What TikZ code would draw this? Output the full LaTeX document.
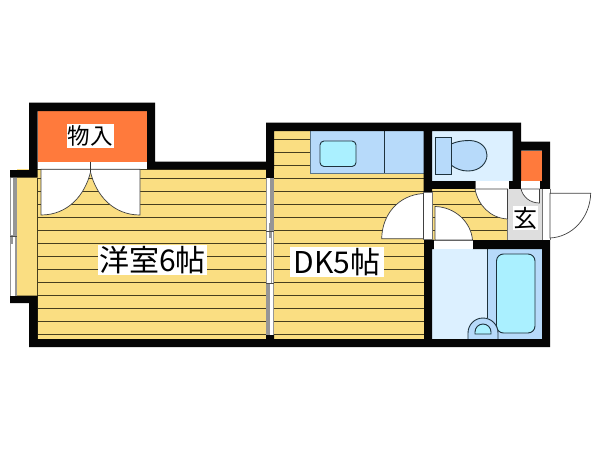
\documentclass[tikz,border=0pt]{standalone}
\usepackage{fontspec}
\newfontfamily\jpfont{Noto Sans CJK JP}
\definecolor{floorY}{RGB}{250,222,130}
\definecolor{lineY}{RGB}{70,62,30}
\definecolor{orangeC}{RGB}{255,122,60}
\definecolor{paleB}{RGB}{220,240,255}
\definecolor{midB}{RGB}{183,218,250}
\definecolor{cyanB}{RGB}{170,240,255}
\definecolor{grayF}{RGB}{222,222,222}
\definecolor{outl}{RGB}{30,50,60}
\definecolor{wallK}{RGB}{5,5,5}
\definecolor{railG}{RGB}{150,150,150}
\tikzset{
 wall/.style={fill=wallK,draw=none},
 fixture/.style={draw=outl,line width=0.9pt},
 leaf/.style={fill=white,draw=black!75,line width=0.7pt},
 plank/.style={draw=lineY,line width=0.8pt},
 rail/.style={fill=railG,draw=none},
 label/.style={fill=white,text=black,inner sep=0pt}
}
\begin{document}
\begin{tikzpicture}[x=1pt,y=-1pt]
\useasboundingbox (0,0) rectangle (600,450);
\fill[white] (0,0) rectangle (600,450);
% floors
\fill[floorY] (17,169) rectangle (37.5,296);
\fill[floorY] (37,169) rectangle (274,339);
\fill[floorY] (274,131) rectangle (424,339);
\fill[floorY] (432,189) rectangle (507,240);
% planks
\foreach \y in {178,191,...,334} \draw[plank] (37,\y) -- (274,\y);
\draw[plank] (37,169.5) -- (266,169.5);
\draw[lineY,line width=0.7pt] (37,178) -- (37,339);
\foreach \y in {139,152,165,178,191,...,334} \draw[plank] (274,\y) -- (424,\y);
\foreach \y in {191,204,217,230} \draw[plank] (432,\y) -- (507,\y);
% blue areas
\fill[midB] (310,131) rectangle (423.5,173);
\draw[draw=outl!60!midB,line width=0.8pt] (310,173) -- (423.5,173) (310,131) -- (310,173);
\draw[fixture] (384.5,131) -- (384.5,173);
\draw[fixture,fill=cyanB,rounded corners=4pt] (320,141) rectangle (356,166.5);
\fill[paleB] (432,131) rectangle (513,181);
\fill[paleB] (432,249) rectangle (542,339);
\fill[midB] (487,249) rectangle (542,339);
\draw[fixture] (487,249) -- (487,318);
\draw[fixture,fill=cyanB,rounded corners=7pt] (496.5,254) rectangle (535,333);
% sink in bath
\draw[fixture,fill=midB] (468,339) -- (468,333) arc[start angle=180,end angle=360,x radius=15,y radius=15] -- (498,339);
\draw[fixture,fill=cyanB] (475,334) -- (475,332) arc[start angle=180,end angle=360,x radius=8,y radius=8] -- (491,334) -- cycle;
% toilet
\draw[fixture,fill=midB] (451,144) .. controls (458,141) and (464,140.5) .. (470,140.5) .. controls (481,141) and (487,148) .. (487,155) .. controls (487,163) and (480,171) .. (468,171) .. controls (462,171) and (456,169) .. (451,165) -- cycle;
\draw[fixture,fill=midB] (435,137) rectangle (451,174.5);
% closet fills
\fill[orangeC] (37.5,111) rectangle (147,161.5);
\fill[orangeC] (521,150.7) rectangle (541.8,181);
\fill[grayF] (507,189) rectangle (542,240);
% walls
\fill[wall] (29,102.5) -- (155,102.5) -- (155,161.5) -- (266,161.5) -- (266,122.5) -- (521,122.5) -- (521,141.7) -- (550,141.7) -- (550,189) -- (542,189) -- (542,150.7) -- (521,150.7) -- (521,181) -- (512.5,181) -- (512.5,131) -- (432,131) -- (432,181) -- (432,189) -- (432,192) -- (423.5,192) -- (423.5,131) -- (274,131) -- (274,169.3) -- (147,169.3) -- (147,111) -- (37.5,111) -- (37.5,177.5) -- (10,177.5) -- (10,170) -- (29,170) -- cycle;
\fill[wall] (432,181) rectangle (475,189);
\fill[wall] (509,181) rectangle (521,189);
\fill[wall] (539.5,181) rectangle (550,189);
\fill[wall] (266,169) rectangle (274,178);
\fill[wall] (10,295.5) -- (37.5,295.5) -- (37.5,339) -- (266,339) -- (266,335) -- (274,335) -- (274,339) -- (424,339) -- (424,239) -- (432,239) -- (434,240) -- (434,249) -- (432,249) -- (432,339) -- (542,339) -- (542,249) -- (472.5,249) -- (472.5,240) -- (550,240) -- (550,347) -- (29,347) -- (29,303) -- (10,303) -- cycle;
% closet double door
\fill[white] (41,161.5) rectangle (140,169.3);
\draw[black!70,line width=0.7pt] (41,169.3) -- (140,169.3);
\draw[leaf] (41,169.3) -- (41,215) .. controls (68,215) and (85,195) .. (90.5,172) -- (90.5,169.3) -- cycle;
\draw[leaf] (140,169.3) -- (140,215) .. controls (113,215) and (96,195) .. (90.5,172) -- (90.5,169.3) -- cycle;
\draw[black!80,line width=0.7pt] (90.5,161.5) -- (90.5,172);
% left window
\fill[white] (10,177.5) rectangle (17,295.5);
\fill[rail] (10,177.5) rectangle (11,295.5);
\fill[rail] (16,177.5) rectangle (17,295.5);
\fill[rail] (13.3,177.5) rectangle (15.5,236);
\fill[rail] (14.5,232) rectangle (16,295.5);
\fill[rail] (11,235) rectangle (13.3,244);
\draw[black!70,line width=0.5pt] (10,236.5) -- (17,236.5);
% sliding door between rooms
\fill[white] (266,178) rectangle (274,335);
\fill[rail] (266,178) rectangle (267,335);
\fill[rail] (273,178) rectangle (274,335);
\fill[rail] (270,178) rectangle (273,231);
\fill[rail] (269,223) rectangle (272,238);
\fill[rail] (270.7,238) rectangle (271.9,283);
\fill[rail] (266,283) rectangle (270,335);
\draw[black!70,line width=0.6pt] (266,231) -- (274,231) (266,283) -- (274,283);
% DK door to hall
\fill[white] (423.5,192) rectangle (432,239);
\draw[black!55,line width=0.7pt] (423.5,192) rectangle (432,239);
\draw[leaf] (423.5,193.5) .. controls (398,195) and (382,215) .. (381.7,238.7) -- (423.5,238.7) -- cycle;
% toilet door
\fill[white] (475,181) rectangle (509,189);
\draw[leaf] (475,189) .. controls (478,205) and (490,218) .. (507.5,219) -- (507.5,189) -- cycle;
\draw[black!60,line width=0.6pt] (475,181) -- (475,189);
\draw[black!55,line width=0.6pt] (507.5,219) -- (507.5,240);
% closet door in genkan
\fill[white] (521,181) rectangle (539.5,189);
\draw[leaf] (521,189) .. controls (523,197) and (530,203) .. (539.5,203) -- (539.5,189) -- cycle;
% entrance door
\fill[white] (542,189) rectangle (550,240);
\draw[black!55,line width=0.6pt] (542,189) -- (542,240) (550,189) -- (550,240);
\draw[leaf] (550,193.3) -- (590.7,193.3) .. controls (590,218) and (572,237) .. (550,238) -- cycle;
% bath door
\fill[white] (434,240) rectangle (472.5,249);
\draw[black!60,line width=0.6pt] (434,240) -- (472.5,240);
\draw[leaf] (435,206.5) .. controls (455,207) and (471,222) .. (472.5,240) -- (435,240) -- cycle;
% labels
\node[label,minimum width=47pt,minimum height=24pt,font=\jpfont\fontsize{22.5}{22.5}\selectfont] (closetlabel) at (90,135.5) {物入};
\node[label,minimum width=109pt,minimum height=30pt,font=\jpfont\fontsize{30}{30}\selectfont] (roomA) at (152.5,260) {洋室6帖};
\node[label,minimum width=94pt,minimum height=30pt,font=\jpfont\fontsize{30}{30}\selectfont] (roomB) at (337,262) {DK5帖};
\node[label,minimum width=25pt,minimum height=24pt,font=\jpfont\fontsize{24}{24}\selectfont] (genkan) at (525,218) {玄};
\end{tikzpicture}
\end{document}
